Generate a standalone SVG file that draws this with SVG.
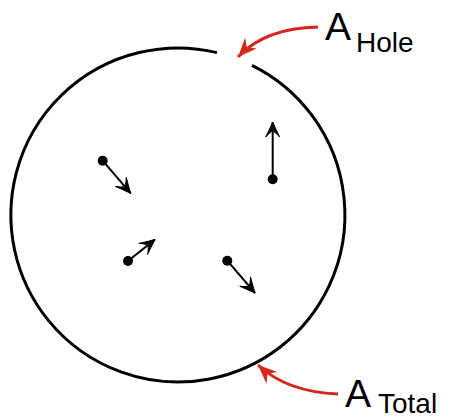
<svg xmlns="http://www.w3.org/2000/svg" width="451" height="419" viewBox="0 0 451 419">
<style>
.circ{fill:none;stroke:#000;stroke-width:3}
.vec{stroke:#000;stroke-width:2;fill:none}
.dot{fill:#000}
.red{fill:none;stroke:#d7261b;stroke-width:3}
.big{font-family:"Liberation Sans",Arial,sans-serif;font-size:39px;fill:#000}
.sub{font-family:"Liberation Sans",Arial,sans-serif;font-size:28px;fill:#000}
</style>
<defs>
<marker id="blk" markerUnits="userSpaceOnUse" viewBox="-17 -9 19 18" refX="0" refY="0" markerWidth="19" markerHeight="18" orient="auto">
<path d="M0,0 Q-7,-3 -15,-7 Q-11,-3.5 -10,-1.5 L-3,0 L-10,1.5 Q-11,3.5 -15,7 Q-7,3 0,0 Z" fill="#000" stroke="#000" stroke-width="1" stroke-linejoin="round"/>
</marker>
<marker id="redm" markerUnits="userSpaceOnUse" viewBox="-20 -10 22 20" refX="0" refY="0" markerWidth="22" markerHeight="20" orient="auto">
<path d="M0,0 L-19,-8 L-13,0 L-19,8 Z" fill="#d7261b"/>
</marker>
</defs>
<g id="container">
<path class="circ" d="M 252 65.3 A 167 167 0 1 1 217 52.6"/>
</g>
<g id="particle1"><circle class="dot" cx="102.7" cy="160.7" r="5"/></g>
<g id="particle2"><circle class="dot" cx="272.7" cy="179.3" r="5"/></g>
<g id="particle3"><circle class="dot" cx="128" cy="261" r="5"/></g>
<g id="particle4"><circle class="dot" cx="227.3" cy="260.7" r="5"/></g>
<g id="label-hole">
<text class="big" x="325" y="40">A</text><text class="sub" x="356" y="52">Hole</text>
</g>
<g id="label-total">
<text class="big" x="345" y="407">A</text><text class="sub" x="378" y="413">Total</text>
</g>
<g id="connectors">
<line class="vec" x1="102.7" y1="160.7" x2="130.7" y2="193.3" marker-end="url(#blk)"/>
<line class="vec" x1="272.7" y1="179.3" x2="272.7" y2="122" marker-end="url(#blk)"/>
<line class="vec" x1="128" y1="261" x2="155" y2="239.5" marker-end="url(#blk)"/>
<line class="vec" x1="227.3" y1="260.7" x2="255" y2="293" marker-end="url(#blk)"/>
<path class="red" d="M 318 27 Q 265 28 238 57" marker-end="url(#redm)"/>
<path class="red" d="M 338 394 Q 287 392 258 365" marker-end="url(#redm)"/>
</g>
</svg>
